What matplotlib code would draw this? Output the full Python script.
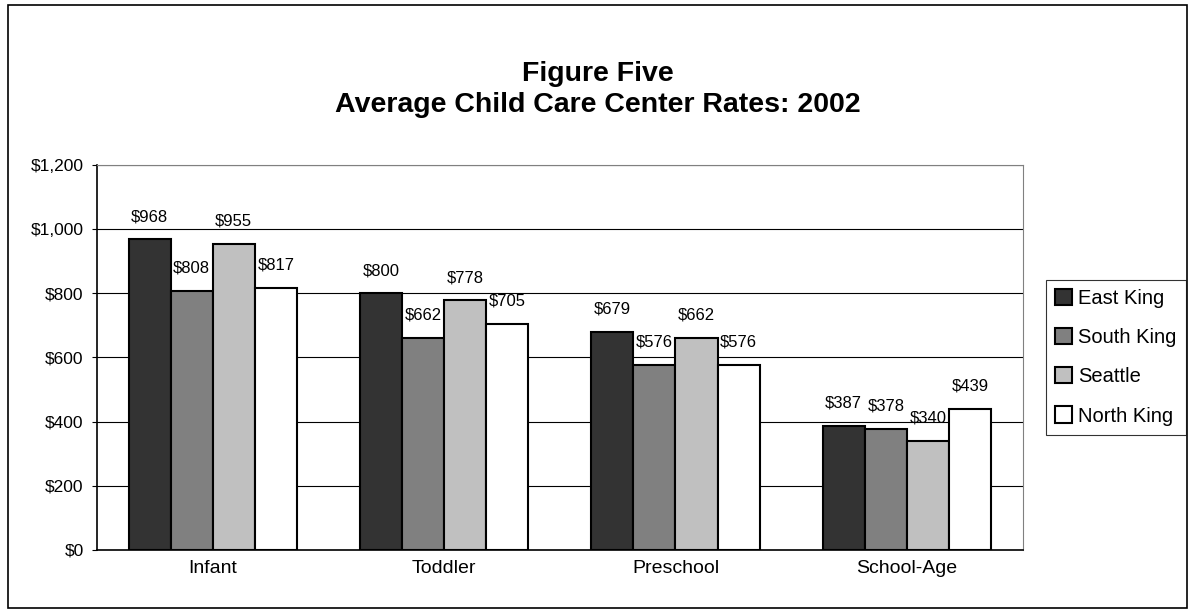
import numpy as np
import matplotlib.pyplot as plt
from matplotlib.patches import Rectangle

plt.rcParams['font.family'] = ['Liberation Sans', 'DejaVu Sans']

# average monthly rates by age group and region
categories = ["Infant", "Toddler", "Preschool", "School-Age"]
regions = ["East King", "South King", "Seattle", "North King"]
east_king = [968, 800, 679, 387]
south_king = [808, 662, 576, 378]
seattle = [955, 778, 662, 340]
north_king = [817, 705, 576, 439]
y_ticks = [0, 200, 400, 600, 800, 1000, 1200]

series = [east_king, south_king, seattle, north_king]
colors = ["#333333", "#808080", "#c0c0c0", "#ffffff"]

fig = plt.figure(figsize=(11.95, 6.15), dpi=100)
fig.patches.append(Rectangle((0.007, 0.012), 0.986, 0.98, transform=fig.transFigure,
                             fill=False, edgecolor="black", linewidth=1.2))
ax = fig.add_axes([0.0812, 0.1057, 0.7745, 0.626])

x = np.arange(len(categories))
width = 0.182
for i, (vals, name, c) in enumerate(zip(series, regions, colors)):
    pos = x + (i - 1.5) * width
    ax.bar(pos, vals, width, color=c, edgecolor="black", linewidth=1.5,
           label=name, zorder=3)
    for px, v in zip(pos, vals):
        ax.annotate(f"${v:,}", (px, v), xytext=(0, 11), textcoords="offset points",
                    ha="center", va="bottom", fontsize=12)

ax.set_xlim(-0.5, len(categories) - 0.5)
ax.set_ylim(0, 1200)
ax.set_yticks(y_ticks)
ax.set_yticklabels([f"${t:,}" for t in y_ticks], fontsize=12.5)
ax.set_xticks(x)
ax.set_xticklabels(categories, fontsize=14)
ax.tick_params(axis="x", length=0, pad=7)
ax.tick_params(axis="y", length=3.6, pad=6, direction="out")
ax.grid(axis="y", color="black", linewidth=0.8, zorder=0)
for s in ["top", "right"]:
    ax.spines[s].set_color("#808080")
ax.spines["left"].set_linewidth(1.2)
ax.spines["bottom"].set_linewidth(1.2)

fig.text(0.5, 0.88, "Figure Five", ha="center", va="center",
         fontsize=20.5, fontweight="bold")
fig.text(0.5, 0.829, "Average Child Care Center Rates: 2002", ha="center",
         va="center", fontsize=20.5, fontweight="bold")

leg = fig.legend(loc="upper left", bbox_to_anchor=(0.8753, 0.5447), fontsize=14.5,
                 frameon=True, fancybox=False, edgecolor="black", borderaxespad=0,
                 handlelength=0.85, handleheight=0.85, handletextpad=0.3,
                 labelspacing=1.0, borderpad=0.45)
leg.get_frame().set_linewidth(0.8)

fig.savefig("out.png", dpi=100)
